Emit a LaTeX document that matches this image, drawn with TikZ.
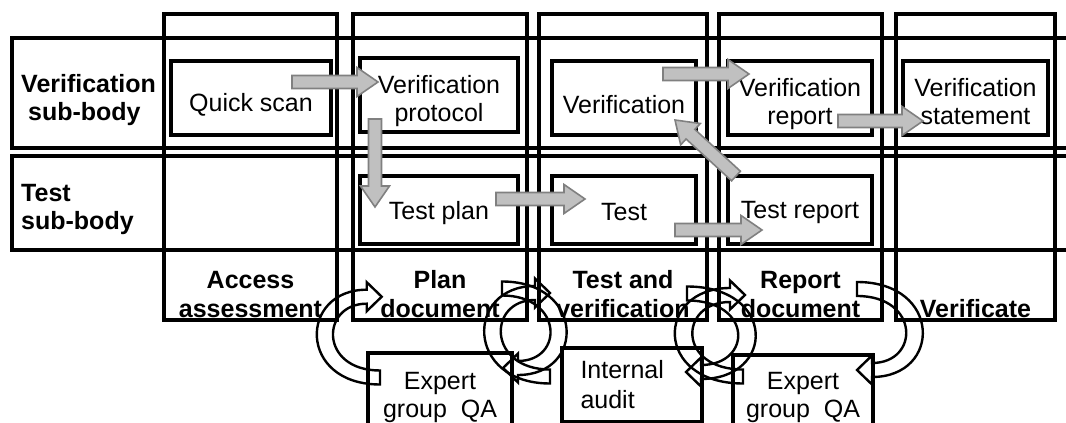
\documentclass[tikz,border=0pt]{standalone}
\usepackage{fontspec}
\setmainfont{Liberation Sans}
\usetikzlibrary{calc,positioning}

\definecolor{arrowfill}{HTML}{C0C0C0}
\definecolor{arrowline}{HTML}{808080}

% straight block arrow, from #1 to the tip #2
\newcommand{\grayarrow}[2]{%
  \coordinate (ga) at ($(#2)!21pt!(#1)$);
  \draw[grayblock] ($(#1)!6.5pt!90:(#2)$) -- ($(ga)!6.5pt!-90:(#1)$)
    -- ($(ga)!14.5pt!-90:(#1)$) -- (#2) -- ($(ga)!14.5pt!90:(#1)$)
    -- ($(ga)!6.5pt!90:(#1)$) -- ($(#1)!6.5pt!-90:(#2)$) -- cycle;
}
% curved open arrow: #1 tail, #2 tip, #3 tail heads right (1) or left (-1),
% #4 tail above (1) or below (-1) the tip, #5 bulge
\newcommand{\cycarrow}[5]{%
  \draw[roundarrow]
    ([yshift={(#4)*7pt}]#1)
      .. controls +({(#3)*1.15*#5},0) and +({(#3)*(1.15*#5-15)},0) ..
    ([xshift={(#3)*15pt},yshift={-(#4)*7pt}]#2)
    -- ([xshift={(#3)*15pt},yshift={-(#4)*14.5pt}]#2)
    -- (#2)
    -- ([xshift={(#3)*15pt},yshift={(#4)*14.5pt}]#2)
    -- ([xshift={(#3)*15pt},yshift={(#4)*7pt}]#2)
      .. controls +({(#3)*(0.85*#5-15)},0) and +({(#3)*0.85*#5},0) ..
    ([yshift={-(#4)*7pt}]#1) -- cycle;
}

\begin{document}
\begin{tikzpicture}[x=1pt,y=1pt,
    font=\fontsize{25}{28}\selectfont,
    frame/.style={draw,line width=3.4pt,inner sep=0pt,outer sep=0pt},
    col/.style={frame,minimum height=306pt},
    task/.style={frame,minimum height=74pt,align=center},
    phase/.style={inner sep=0pt,outer sep=0pt,align=center,
      font=\fontsize{25}{29}\selectfont\bfseries},
    side/.style={inner sep=0pt,anchor=west,align=left,
      font=\fontsize{25}{28}\selectfont\bfseries},
    grayblock/.style={draw=arrowline,fill=arrowfill,line width=1.6pt,line join=miter},
    roundarrow/.style={draw,line width=2.4pt,line join=miter}]

  \path[use as bounding box] (0,0) rectangle (1066,423);

  % sub-body rows
  \node[frame,minimum width=1070pt,minimum height=110pt] (rowv) at (547,330) {};
  \node[frame,minimum width=1070pt,minimum height=94pt]  (rowt) at (547,220) {};

  % phase columns
  \node[col,minimum width=173pt]                  (col1) at (250.5,256) {};
  \node[col,minimum width=174pt,right=16pt of col1] (col2) {};
  \node[col,minimum width=168pt,right=12pt of col2] (col3) {};
  \node[col,minimum width=163pt,right=12pt of col3] (col4) {};
  \node[col,minimum width=159pt,right=14pt of col4] (col5) {};

  \node[side] (subv) at (21,323.3) {Verification\\\ sub-body};
  \node[side] (subt) at (21,214)   {Test\\sub-body};

  % tasks
  \node[task,minimum width=160pt] (qs) at (251,325)   {\rule{0pt}{31pt}Quick scan};
  \node[task,minimum width=158pt] (vp) at (439,328)   {\rule{0pt}{30pt}Verification\\protocol};
  \node[task,minimum width=144pt] (v)  at (624,325)   {\rule{0pt}{32pt}Verification};
  \node[task,minimum width=144pt] (vr) at (800,325)   {\rule{0pt}{31pt}Verification\\report};
  \node[task,minimum width=145pt] (vs) at (975.5,325) {\rule{0pt}{26pt}Verification\\statement};
  \node[task,minimum width=158pt,minimum height=68pt] (tp) at (439,213) {\rule{0pt}{25pt}Test plan};
  \node[task,minimum width=144pt,minimum height=68pt] (t)  at (624,213) {\rule{0pt}{21pt}Test};
  \node[task,minimum width=144pt,minimum height=68pt] (tr) at (800,213) {\rule{0pt}{23pt}Test report};

  % phases
  \node[phase,above=2pt of col1.south] (ph1) {Access\\assessment};
  \node[phase,above=2pt of col2.south] (ph2) {Plan\\document};
  \node[phase,above=2pt of col3.south] (ph3) {Test and\\verification};
  \node[phase,above=2pt of col4.south] (ph4) {Report\\document};
  \node[phase,above=2pt of col5.south] (ph5) {Verificate};

  % reviews
  \node[frame,minimum width=144pt,minimum height=88pt,align=center] (qa1) at (440,26) {Expert\\group\ \ QA};
  \node[frame,minimum width=140pt,minimum height=74pt,align=left,text width=103pt] (ia) at (632,38) {Internal\\[2pt]audit};
  \node[frame,minimum width=140pt,minimum height=84pt,align=center] (qa2) at (803,26) {Expert\\group\ \ QA};

  % flow of documents
  \coordinate (qs-out) at ([xshift=-39pt,yshift=16pt]qs.east);
  \coordinate (vp-in)  at ([xshift=18pt,yshift=13pt]vp.west);
  \coordinate (vp-out) at ([xshift=-64pt,yshift=13pt]vp.south);
  \coordinate (tp-in)  at ([xshift=-64pt,yshift=-31pt]tp.north);
  \coordinate (tp-out) at ([xshift=-22pt,yshift=11pt]tp.east);
  \coordinate (t-in)   at ([xshift=33pt,yshift=11pt]t.west);
  \coordinate (v-out)  at ([xshift=-33pt,yshift=24pt]v.east);
  \coordinate (vr-in)  at ([xshift=21pt,yshift=24pt]vr.west);
  \coordinate (vr-out) at ([xshift=-34pt,yshift=-23pt]vr.east);
  \coordinate (vs-in)  at ([xshift=20pt,yshift=-23pt]vs.west);
  \coordinate (tr-out) at ([xshift=8pt]tr.north west);
  \coordinate (v-in)   at ([xshift=-21pt,yshift=15pt]v.south east);
  \coordinate (t-out)  at ([xshift=-21pt,yshift=-20pt]t.east);
  \coordinate (tr-in)  at ([xshift=34pt,yshift=-20pt]tr.west);

  \grayarrow{qs-out}{vp-in}
  \grayarrow{vp-out}{tp-in}
  \grayarrow{tp-out}{t-in}
  \grayarrow{v-out}{vr-in}
  \grayarrow{vr-out}{vs-in}
  \grayarrow{tr-out}{v-in}
  \grayarrow{t-out}{tr-in}

  % review loops
  \coordinate (qa1-out) at ([xshift=12pt,yshift=19.5pt]qa1.west);
  \coordinate (ph2-in)  at ([xshift=28.7pt,yshift=23.3pt]col2.south west);
  \coordinate (ph2-out) at ([xshift=-25pt,yshift=31.5pt]col2.south east);
  \coordinate (qa1-in)  at ([xshift=-9pt,yshift=-15pt]qa1.north east);
  \coordinate (ia-out)  at ([xshift=-12pt,yshift=8.5pt]ia.west);
  \coordinate (ph3-in)  at ([xshift=11pt,yshift=27pt]col3.south west);
  \coordinate (ph3-out) at ([xshift=-20pt,yshift=26.5pt]col3.south east);
  \coordinate (ia-in)   at ([xshift=-16pt,yshift=-24pt]ia.north east);
  \coordinate (qa2-out) at ([xshift=10pt,yshift=20.5pt]qa2.west);
  \coordinate (ph4-in)  at ([xshift=26pt,yshift=25pt]col4.south west);
  \coordinate (ph4-out) at ([xshift=-25pt,yshift=31pt]col4.south east);
  \coordinate (qa2-in)  at ([xshift=-16pt,yshift=-15pt]qa2.north east);

  \cycarrow{qa1-out}{ph2-in}{-1}{-1}{72}
  \cycarrow{ph2-out}{qa1-in}{1}{1}{72}
  \cycarrow{ia-out}{ph3-in}{-1}{-1}{74}
  \cycarrow{ph3-out}{ia-in}{1}{1}{78}
  \cycarrow{qa2-out}{ph4-in}{-1}{-1}{78}
  \cycarrow{ph4-out}{qa2-in}{1}{1}{74}
\end{tikzpicture}
\end{document}
